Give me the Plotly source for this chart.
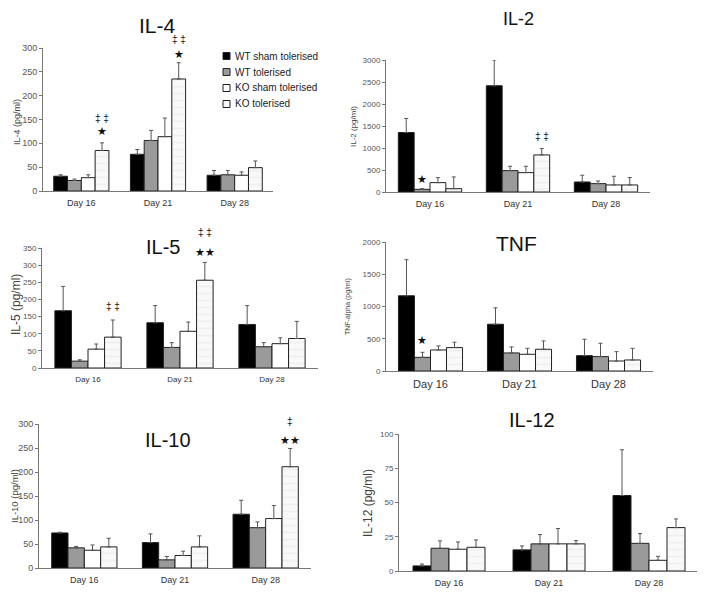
import plotly.graph_objects as go

# the page puts the figure 8px in from the top-left corner, so the figure is 8px smaller
OFF = 8
W, H = 705 - OFF, 593 - OFF

days = ["Day 16", "Day 21", "Day 28"]
groups = ["WT sham tolerised", "WT tolerised", "KO sham tolerised", "KO tolerised"]

# means / upper SEM, one inner list per group (Day 16, 21, 28)
il4_mean = [[31, 77, 33], [22, 106, 34], [28, 114, 33], [85, 235, 49]]
il4_err = [[3, 10, 10], [3, 21, 9], [6, 39, 7], [16, 34, 14]]

il2_mean = [[1352, 2415, 228], [61, 486, 190], [213, 440, 160], [76, 843, 160]]
il2_err = [[319, 585, 152], [15, 99, 60], [114, 145, 197], [266, 144, 167]]

il5_mean = [[167, 132, 127], [20, 60, 62], [55, 107, 71], [90, 256, 86]]
il5_err = [[71, 50, 55], [4, 14, 12], [15, 27, 17], [50, 52, 50]]

tnf_mean = [[1166, 725, 238], [212, 280, 223], [326, 259, 155], [363, 337, 171]]
tnf_err = [[559, 254, 254], [78, 93, 207], [63, 93, 145], [83, 129, 181]]

il10_mean = [[73, 53, 112], [42, 17, 84], [37, 26, 103], [44, 44, 211]]
il10_err = [[1.5, 18, 29], [3, 7, 12], [11, 9, 27], [18, 23, 38]]

il12_mean = [[3.7, 15.4, 55.1], [16.6, 19.8, 20.2], [15.9, 19.8, 7.8], [17.3, 19.8, 31.7]]
il12_err = [[1.4, 2.9, 33.4], [5.4, 6.8, 7.1], [5.3, 11.2, 2.9], [5.4, 2.4, 6.3]]

# significance marks: (group index, day index, y value, text)
il4_marks = [(3, 0, 125, "★"), (3, 0, 153, "‡ ‡"), (3, 1, 287, "★"), (3, 1, 318, "‡ ‡")]
il2_marks = [(1, 0, 304, "★"), (3, 1, 1270, "‡ ‡")]
il5_marks = [(3, 0, 179, "‡ ‡"), (3, 1, 338, "★★"), (3, 1, 394, "‡ ‡")]
tnf_marks = [(1, 0, 482, "★")]
il10_marks = [(3, 2, 267, "★★"), (3, 2, 306, "‡")]
il12_marks = []

FONT = "Arial, Liberation Sans, sans-serif"
BARGAP = 0.28

# panel layout in page pixels: plot box (x0, x1, ytop, ybottom), title / y-label centres, font sizes
panels = [
    dict(title="IL-4", ylab="IL-4 (pg/ml)", mean=il4_mean, err=il4_err, marks=il4_marks,
         ymax=300, dtick=50, box=(43, 273, 48, 191), tpos=(157, 25), tsize=21,
         lpos=(17, 122), lsize=9, tick=9, cat=9),
    dict(title="IL-2", ylab="IL-2 (pg/ml)", mean=il2_mean, err=il2_err, marks=il2_marks,
         ymax=3000, dtick=500, box=(386, 650, 60, 192), tpos=(518, 19), tsize=18,
         lpos=(354, 127), lsize=8, tick=8, cat=9),
    dict(title="IL-5", ylab="IL-5 (pg/ml)", mean=il5_mean, err=il5_err, marks=il5_marks,
         ymax=350, dtick=50, box=(42, 318, 248, 368), tpos=(163, 247), tsize=20,
         lpos=(16, 305), lsize=12, tick=8, cat=8),
    dict(title="TNF", ylab="TNF-alpha (pg/ml)", mean=tnf_mean, err=tnf_err, marks=tnf_marks,
         ymax=2000, dtick=500, box=(386, 653, 242, 371), tpos=(517, 243), tsize=21,
         lpos=(348, 307), lsize=7, tick=8, cat=11),
    dict(title="IL-10", ylab="IL-10 (pg/ml)", mean=il10_mean, err=il10_err, marks=il10_marks,
         ymax=300, dtick=50, box=(39, 311, 424, 568), tpos=(168, 440), tsize=20,
         lpos=(14, 496), lsize=9.5, tick=9, cat=9),
    dict(title="IL-12", ylab="IL-12 (pg/ml)", mean=il12_mean, err=il12_err, marks=il12_marks,
         ymax=100, dtick=25, box=(399, 699, 434, 571), tpos=(532, 420), tsize=20,
         lpos=(368, 503), lsize=12, tick=8, cat=9),
]

fills = ["#000000", "#9a9a9a", "#ffffff", "#f6f6f6"]


def fx(x):
    return (x - OFF) / W


def fy(y):
    return 1 - (y - OFF) / H


fig = go.Figure()
annotations = []
shapes = []
bw = (1 - BARGAP) / 4

for k, p in enumerate(panels, start=1):
    xa = "x" if k == 1 else f"x{k}"
    ya = "y" if k == 1 else f"y{k}"
    for g, name in enumerate(groups):
        marker = dict(color=fills[g], line=dict(color="#222222", width=1))
        if g == 3:
            marker["pattern"] = dict(shape="-", fgcolor="#e8e8e8", bgcolor="#f9f9f9",
                                     size=7, solidity=0.3)
        fig.add_trace(go.Bar(
            x=[0, 1, 2], y=p["mean"][g], name=name,
            marker=marker,
            error_y=dict(type="data", array=p["err"][g], arrayminus=[0, 0, 0],
                         symmetric=False, color="#555555", thickness=1, width=2),
            xaxis=xa, yaxis=ya, showlegend=False,
        ))

    x0, x1, yt, yb = p["box"]
    sfx = "" if k == 1 else str(k)
    fig.update_layout({
        f"xaxis{sfx}": dict(
            domain=[fx(x0), fx(x1)], anchor=ya, range=[-0.5, 2.5],
            tickvals=[0, 1, 2], ticktext=days, showline=True, linecolor="#777777",
            linewidth=1, ticks="", showgrid=False, zeroline=False, fixedrange=True,
            ticklabelstandoff=3,
            tickfont=dict(size=p["cat"], color="#333333", family=FONT),
        ),
        f"yaxis{sfx}": dict(
            domain=[fy(yb), fy(yt)], anchor=xa, range=[0, p["ymax"]],
            dtick=p["dtick"], showline=True, linecolor="#777777", linewidth=1,
            ticks="outside", ticklen=3, tickcolor="#777777", showgrid=False,
            zeroline=False, tickfont=dict(size=p["tick"], color="#555555", family=FONT),
        ),
    })

    annotations.append(dict(text=p["title"], x=fx(p["tpos"][0]), y=fy(p["tpos"][1]),
                            xref="paper", yref="paper", xanchor="center", yanchor="middle",
                            showarrow=False, font=dict(size=p["tsize"], color="#111111")))
    annotations.append(dict(text=p["ylab"], x=fx(p["lpos"][0]), y=fy(p["lpos"][1]),
                            xref="paper", yref="paper", xanchor="center", yanchor="middle",
                            textangle=-90, showarrow=False,
                            font=dict(size=p["lsize"], color="#444444")))
    for g, d, yv, txt in p["marks"]:
        xpos = d - (1 - BARGAP) / 2 + (g + 0.5) * bw
        size = 10 if "‡" in txt else 11
        annotations.append(dict(text=txt, x=xpos, y=yv / p["ymax"], xref=xa,
                                yref=f"{ya} domain", xanchor="center", yanchor="middle",
                                showarrow=False, font=dict(size=size, color="#111111")))

# legend drawn inside the IL-4 panel
leg_x, leg_y0, leg_dy = 226, 56, 16
for g, name in enumerate(groups):
    cy = leg_y0 + g * leg_dy
    shapes.append(dict(type="rect", xref="paper", yref="paper",
                       x0=fx(leg_x - 3), x1=fx(leg_x + 4),
                       y0=fy(cy + 3.5), y1=fy(cy - 3.5),
                       fillcolor=fills[g], line=dict(color="#222222", width=1)))
    annotations.append(dict(text=name, x=fx(leg_x + 7), y=fy(cy),
                            xref="paper", yref="paper", xanchor="left", yanchor="middle",
                            showarrow=False, font=dict(size=10, color="#222222")))

fig.update_layout(
    width=W, height=H,
    margin=dict(l=0, r=0, t=0, b=0, autoexpand=False),
    paper_bgcolor="white", plot_bgcolor="white",
    barmode="group", bargap=BARGAP, bargroupgap=0,
    font=dict(family=FONT),
    showlegend=False,
    annotations=annotations,
    shapes=shapes,
)

fig.write_html("out.html")
